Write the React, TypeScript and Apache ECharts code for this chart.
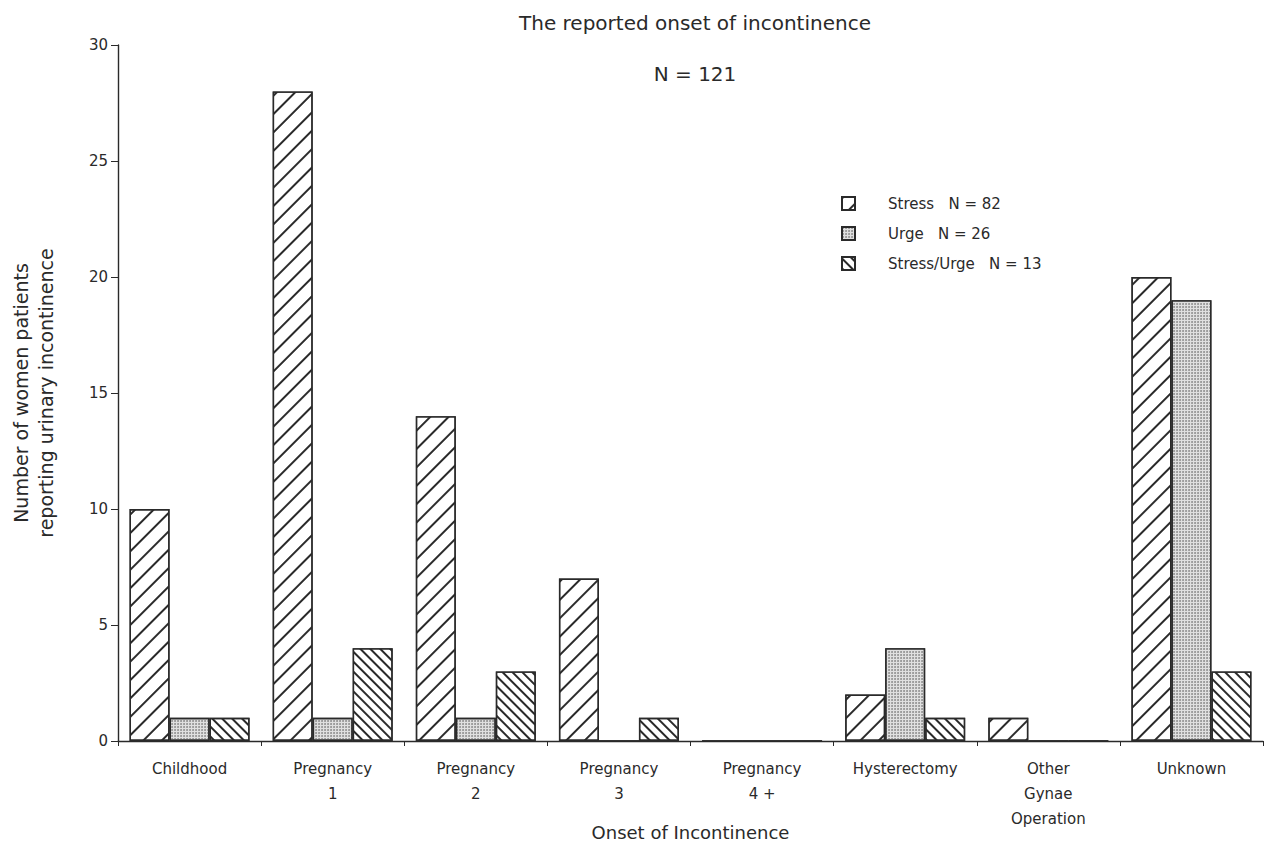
import React, { useEffect, useRef } from "react";
import * as echarts from "echarts";

const categories = [
  "Childhood",
  "Pregnancy\n1",
  "Pregnancy\n2",
  "Pregnancy\n3",
  "Pregnancy\n4 +",
  "Hysterectomy",
  "Other\nGynae\nOperation",
  "Unknown",
];
const stressValues = [10, 28, 14, 7, 0, 2, 1, 20];
const urgeValues = [1, 1, 1, 0, 0, 4, 0, 19];
const stressUrgeValues = [1, 4, 3, 1, 0, 1, 0, 3];
const seriesNames = ["Stress   N = 82", "Urge   N = 26", "Stress/Urge   N = 13"];
const yTicks = { min: 0, max: 30, interval: 5 };

const FONT = "'DejaVu Sans', 'Liberation Sans', sans-serif";
const INK = "#2a2a2a";

export default function App() {
  const ref = useRef<HTMLDivElement>(null);
  useEffect(() => {
    if (!ref.current) return;
    const chart = echarts.init(ref.current, null, { renderer: "svg" });
    const baseItem = { borderColor: INK, borderWidth: 1.4 };
    chart.setOption({
      animation: false,
      backgroundColor: "#ffffff",
      textStyle: { fontFamily: FONT, color: INK },
      title: [
        {
          text: "The reported onset of incontinence",
          left: 690,
          textAlign: "center",
          top: 8,
          textStyle: { fontFamily: FONT, fontSize: 20, fontWeight: "normal", color: INK },
        },
        {
          text: "N = 121",
          left: 690,
          textAlign: "center",
          top: 59,
          textStyle: { fontFamily: FONT, fontSize: 20, fontWeight: "normal", color: INK },
        },
      ],
      legend: {
        orient: "vertical",
        left: 836,
        top: 191,
        icon: "rect",
        itemWidth: 13,
        itemHeight: 13,
        itemGap: 15,
        textStyle: { fontFamily: FONT, fontSize: 15, color: INK, padding: [0, 0, 0, 28] },
        data: seriesNames,
      },
      grid: {
        left: 118,
        right: 10,
        top: 45,
        bottom: 117,
        containLabel: false,
        outerBoundsMode: "none",
      },
      xAxis: {
        type: "category",
        data: categories,
        name: "Onset of Incontinence",
        nameLocation: "middle",
        nameGap: 82,
        nameMoveOverlap: false,
        nameTextStyle: { fontFamily: FONT, fontSize: 18, color: INK },
        axisLine: { lineStyle: { color: INK, width: 1.4 } },
        axisTick: { show: true, length: 5, lineStyle: { color: INK } },
        axisLabel: {
          interval: 0,
          margin: 15,
          fontFamily: FONT,
          fontSize: 15,
          lineHeight: 25,
          color: INK,
        },
      },
      yAxis: {
        type: "value",
        min: yTicks.min,
        max: yTicks.max,
        interval: yTicks.interval,
        name: "Number of women patients\nreporting urinary incontinence",
        nameLocation: "middle",
        nameGap: 60,
        nameRotate: 90,
        nameMoveOverlap: false,
        nameTextStyle: { fontFamily: FONT, fontSize: 19, color: INK, lineHeight: 25 },
        axisLine: { show: true, lineStyle: { color: INK, width: 1.4 } },
        axisTick: { show: true, length: 7, lineStyle: { color: INK } },
        axisLabel: { fontFamily: FONT, fontSize: 15, color: INK, margin: 10 },
        splitLine: { show: false },
      },
      series: [
        {
          name: seriesNames[0],
          type: "bar",
          data: stressValues,
          barWidth: 40,
          barGap: "0%",
          itemStyle: {
            ...baseItem,
            color: "#ffffff",
            decal: {
              symbol: "rect",
              color: INK,
              dashArrayX: [1, 0],
              dashArrayY: [1.5, 11],
              symbolSize: 1,
              rotation: -Math.PI / 4,
            },
          },
        },
        {
          name: seriesNames[1],
          type: "bar",
          data: urgeValues,
          barWidth: 40,
          barGap: "0%",
          itemStyle: {
            ...baseItem,
            color: "#e0e0e0",
            decal: {
              symbol: "circle",
              color: "#8a8a8a",
              dashArrayX: [2, 1],
              dashArrayY: [2, 1],
              symbolSize: 0.9,
              rotation: 0,
            },
          },
        },
        {
          name: seriesNames[2],
          type: "bar",
          data: stressUrgeValues,
          barWidth: 40,
          barGap: "0%",
          itemStyle: {
            ...baseItem,
            color: "#ffffff",
            decal: {
              symbol: "rect",
              color: INK,
              dashArrayX: [1, 0],
              dashArrayY: [1.3, 5],
              symbolSize: 1,
              rotation: Math.PI / 4,
            },
          },
        },
      ],
    });
    return () => chart.dispose();
  }, []);
  return (
    <div
      ref={ref}
      style={{ position: "absolute", left: 0, top: 0, width: 1273, height: 858 }}
    />
  );
}
